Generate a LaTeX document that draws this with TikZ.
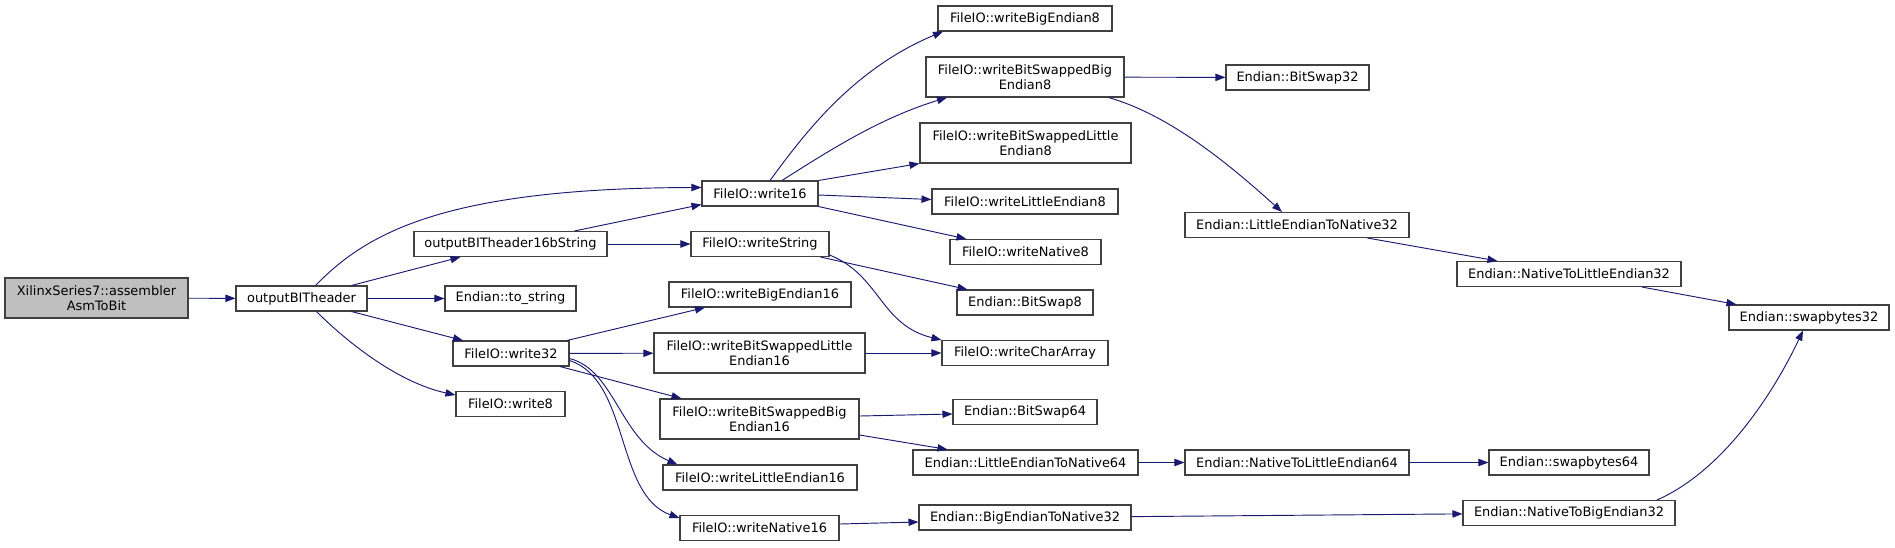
\documentclass[tikz,border=0pt]{standalone}
\usepackage{fontspec}
\setmainfont{DejaVu Sans}
\usepackage{tikz}
\usetikzlibrary{arrows.meta}
\usepackage{xcolor}
\definecolor{callblue}{RGB}{25,25,112}
\definecolor{boxgrey}{RGB}{64,64,64}
\definecolor{rootfill}{RGB}{191,191,191}
\newcommand{\px}{0.75pt}
\tikzset{
  fn/.style={draw=boxgrey,fill=white,line width=0.8pt,inner sep=0pt,align=center,
    font=\fontsize{9.7}{11.3}\selectfont,minimum height=25*\px},
  fntwo/.style={fn,minimum height=40*\px},
  call/.style={callblue,line width=0.7pt,-{Triangle[length=7.5pt,width=5.5pt]}}
}

\begin{document}
\begin{tikzpicture}[x=\px,y=-\px]
    \useasboundingbox (0,0) rectangle (1895,547);

    % callers
    \node[fntwo,fill=rootfill,minimum width=183*\px] (asm) at (96.5,298) {XilinxSeries7::assembler\\AsmToBit};
    \node[fn,minimum width=131*\px] (obh) at (301.5,298.5) {outputBITheader};

    % second column
    \node[fn,minimum width=193*\px] (obh16) at (510.5,244) {outputBITheader16bString};
    \node[fn,minimum width=131*\px] (tostr) at (510.5,298.5) {Endian::to\_string};
    \node[fn,minimum width=116*\px] (w32) at (511,353.5) {FileIO::write32};
    \node[fn,minimum width=109*\px] (w8) at (510.5,404) {FileIO::write8};

    % third column
    \node[fn,minimum width=116*\px] (w16) at (760,193.5) {FileIO::write16};
    \node[fn,minimum width=138*\px] (wstr) at (760,244) {FileIO::writeString};
    \node[fn,minimum width=182*\px] (wbe16) at (760,294.5) {FileIO::writeBigEndian16};
    \node[fntwo,minimum width=211*\px] (wbsl16) at (759.5,353) {FileIO::writeBitSwappedLittle\\Endian16};
    \node[fntwo,minimum width=199*\px] (wbsb16) at (759.5,419) {FileIO::writeBitSwappedBig\\Endian16};
    \node[fn,minimum width=194*\px] (wle16) at (760,477.5) {FileIO::writeLittleEndian16};
    \node[fn,minimum width=159*\px] (wn16) at (759.5,528) {FileIO::writeNative16};

    % fourth column
    \node[fn,minimum width=174*\px] (wbe8) at (1025,18.5) {FileIO::writeBigEndian8};
    \node[fntwo,minimum width=198*\px] (wbsb8) at (1025,77) {FileIO::writeBitSwappedBig\\Endian8};
    \node[fntwo,minimum width=211*\px] (wbsl8) at (1025.5,143) {FileIO::writeBitSwappedLittle\\Endian8};
    \node[fn,minimum width=186*\px] (wle8) at (1025,201.5) {FileIO::writeLittleEndian8};
    \node[fn,minimum width=151*\px] (wn8) at (1025.5,252) {FileIO::writeNative8};
    \node[fn,minimum width=136*\px] (bs8) at (1025,302.5) {Endian::BitSwap8};
    \node[fn,minimum width=166*\px] (wca) at (1025,353) {FileIO::writeCharArray};
    \node[fn,minimum width=144*\px] (bs64) at (1025,412) {Endian::BitSwap64};
    \node[fn,minimum width=225*\px] (len64) at (1025.5,462.5) {Endian::LittleEndianToNative64};
    \node[fn,minimum width=212*\px] (ben32) at (1025,517.5) {Endian::BigEndianToNative32};

    % fifth column
    \node[fn,minimum width=143*\px] (bs32) at (1297.5,77.5) {Endian::BitSwap32};
    \node[fn,minimum width=224*\px] (len32) at (1297,225) {Endian::LittleEndianToNative32};
    \node[fn,minimum width=224*\px] (nle64) at (1297,462.5) {Endian::NativeToLittleEndian64};

    % last columns
    \node[fn,minimum width=224*\px] (nle32) at (1569,274) {Endian::NativeToLittleEndian32};
    \node[fn,minimum width=160*\px] (sb64) at (1569,462.5) {Endian::swapbytes64};
    \node[fn,minimum width=212*\px] (nbe32) at (1569,513) {Endian::NativeToBigEndian32};
    \node[fn,minimum width=160*\px] (sb32) at (1809,317.5) {Endian::swapbytes32};

    % calls
    \draw[call] (asm) -- (obh);
    \draw[call] ([xshift=14*\px]obh.north) .. controls (365,235) and (440,188) .. ([yshift=6*\px]w16.west);
    \draw[call] ([xshift=50*\px]obh.north) -- ([xshift=-50*\px]obh16.south);
    \draw[call] (obh) -- (tostr);
    \draw[call] ([xshift=50*\px]obh.south) -- ([xshift=-48*\px]w32.north);
    \draw[call] ([xshift=15*\px]obh.south) .. controls (350,345) and (400,383) .. ([yshift=9*\px]w8.west);

    \draw[call] ([xshift=64*\px]obh16.north) -- ([yshift=-11*\px]w16.west);
    \draw[call] (obh16) -- (wstr);

    \draw[call] ([xshift=10*\px]w16.north) .. controls (800,140) and (850,70) .. ([xshift=-82*\px]wbe8.south);
    \draw[call] ([xshift=22*\px]w16.north) .. controls (830,150) and (880,118) .. ([xshift=-78*\px]wbsb8.south);
    \draw[call] (w16.north east) -- (wbsl8.south west);
    \draw[call] ([yshift=-1.5*\px]w16.east) -- ([yshift=2*\px]wle8.west);
    \draw[call] (w16.south east) -- ([xshift=17*\px]wn8.north west);

    \draw[call] ([xshift=-9*\px]wstr.south east) -- ([xshift=11*\px]bs8.north west);
    \draw[call] ([yshift=-11*\px]wstr.east) .. controls (880,275) and (880,325) .. (wca.north west);

    \draw[call] ([xshift=56*\px]w32.north) -- ([xshift=-55*\px]wbe16.south);
    \draw[call] (w32) -- (wbsl16);
    \draw[call] ([xshift=49*\px]w32.south) -- ([xshift=-78*\px]wbsb16.north);
    \draw[call] ([yshift=-5*\px]w32.east) .. controls (615,370) and (620,440) .. ([xshift=15*\px]wle16.north west);
    \draw[call] ([yshift=-7*\px]w32.east) .. controls (630,380) and (615,495) .. ([yshift=10*\px]wn16.west);

    \draw[call] (wbsl16) -- (wca);
    \draw[call] ([yshift=3*\px]wbsb16.east) -- ([yshift=-2*\px]bs64.west);
    \draw[call] ([yshift=-16*\px]wbsb16.east) -- ([xshift=35*\px]len64.north west);
    \draw[call] ([yshift=4*\px]wn16.east) -- ([yshift=-4.5*\px]ben32.west);

    \draw[call] (wbsb8) -- (bs32);
    \draw[call] ([xshift=-16*\px]wbsb8.south east) .. controls (1170,115) and (1230,165) .. ([xshift=-15*\px]len32.north);
    \draw[call] ([xshift=-42*\px]len32.south east) -- ([xshift=41*\px]nle32.north west);
    \draw[call] ([xshift=73*\px]nle32.south) -- ([xshift=8*\px]sb32.north west);

    \draw[call] (len64) -- (nle64);
    \draw[call] (nle64) -- (sb64);
    \draw[call] (ben32) -- (nbe32);
    \draw[call] ([xshift=88*\px]nbe32.north) .. controls (1725,470) and (1775,390) .. ([xshift=-6*\px]sb32.south);
\end{tikzpicture}
\end{document}
